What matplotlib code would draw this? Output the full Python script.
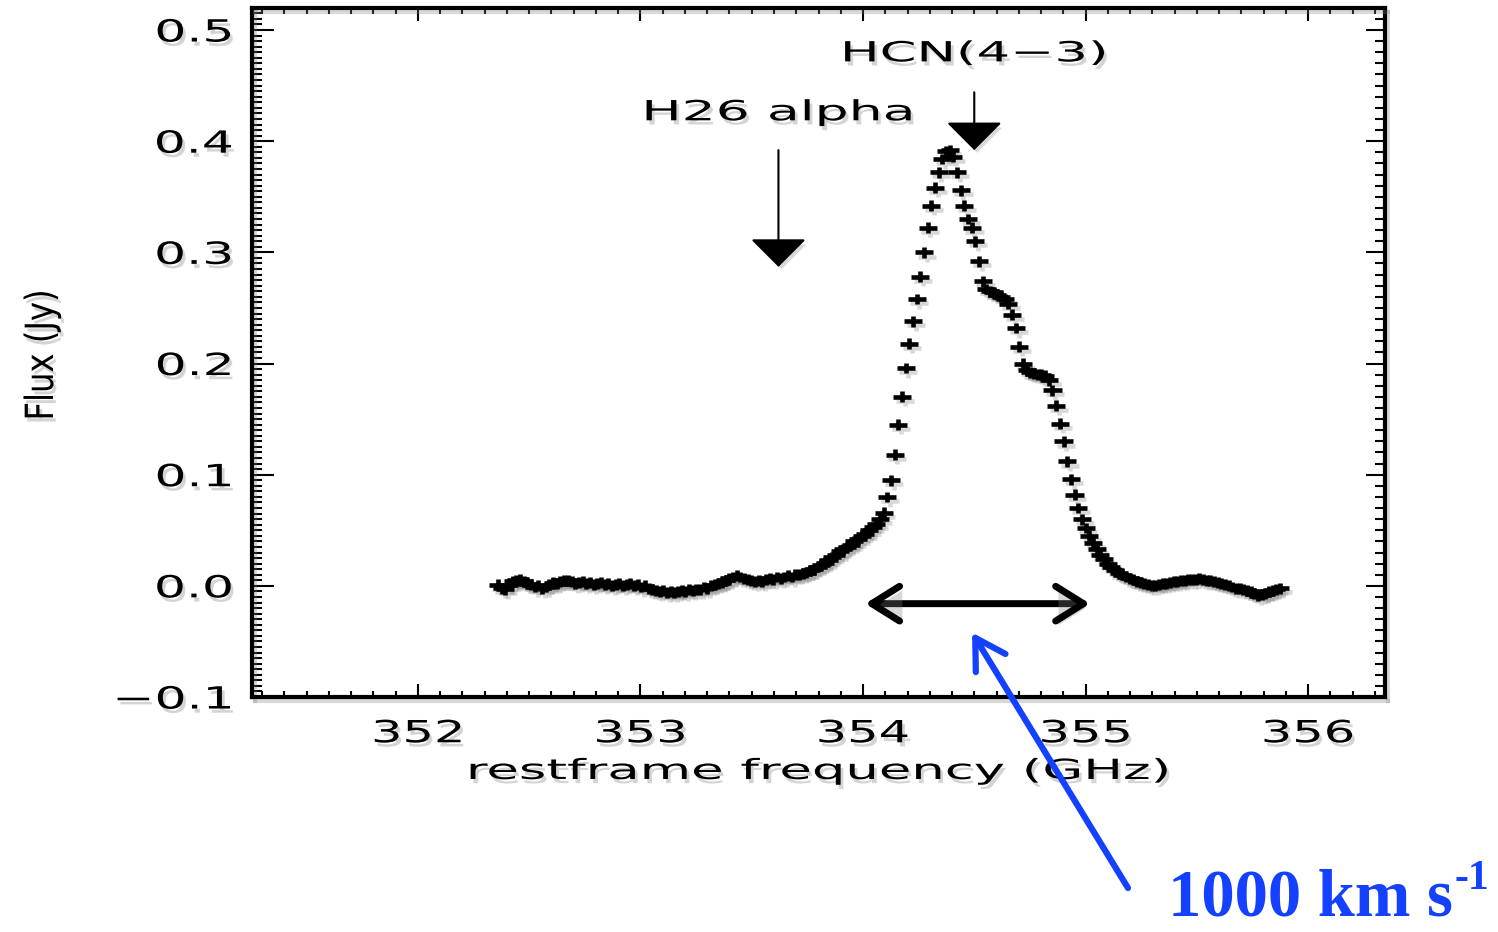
import numpy as np
import matplotlib
matplotlib.use("Agg")
import matplotlib.pyplot as plt
from matplotlib.path import Path
from matplotlib.patches import ArrowStyle
from matplotlib.ticker import MultipleLocator
from matplotlib.transforms import Affine2D
import matplotlib.patheffects as pe

plt.rcParams['font.family'] = ['DejaVu Sans']

# spectrum: channel grid + flux
chan0 = 352.36      # GHz, first channel
dchan = 0.0165      # GHz, channel width
flux = [
    0.001, -0.002, -0.003, 0.001, 0.004, 0.005, 0.006, 0.004, 0.002, 0.001,
    -0.001, 0.000, -0.002, -0.001, 0.001, 0.003, 0.002, 0.004, 0.005, 0.005,
    0.004, 0.002, 0.003, 0.004, 0.002, 0.003, 0.001, 0.002, 0.003, 0.001,
    0.002, 0.000, 0.001, 0.002, 0.000, 0.001, 0.002, 0.000, 0.001, -0.001,
    0.000, -0.002, -0.003, -0.004, -0.005, -0.004, -0.006, -0.005, -0.006, -0.005,
    -0.004, -0.005, -0.003, -0.004, -0.003, -0.003, -0.001, -0.002, 0.000, 0.001,
    0.002, 0.003, 0.005, 0.007, 0.008, 0.009, 0.008, 0.007, 0.006, 0.005,
    0.004, 0.005, 0.004, 0.006, 0.007, 0.006, 0.008, 0.007, 0.008, 0.009,
    0.008, 0.010, 0.010, 0.011, 0.012, 0.014, 0.015, 0.017, 0.019, 0.021,
    0.023, 0.026, 0.028, 0.031, 0.033, 0.035, 0.037, 0.040, 0.042, 0.045,
    0.047, 0.050, 0.053, 0.056, 0.060, 0.066, 0.080, 0.095, 0.118, 0.145,
    0.170, 0.196, 0.218, 0.238, 0.258, 0.278, 0.300, 0.322, 0.342, 0.358,
    0.372, 0.384, 0.391, 0.392, 0.386, 0.372, 0.356, 0.342, 0.330, 0.322,
    0.310, 0.292, 0.274, 0.267, 0.265, 0.264, 0.262, 0.260, 0.258, 0.254,
    0.244, 0.232, 0.215, 0.200, 0.194, 0.192, 0.191, 0.190, 0.190, 0.189,
    0.185, 0.176, 0.162, 0.146, 0.130, 0.112, 0.096, 0.082, 0.070, 0.060,
    0.052, 0.045, 0.039, 0.033, 0.028, 0.024, 0.020, 0.017, 0.014, 0.012,
    0.010, 0.008, 0.007, 0.006, 0.004, 0.003, 0.002, 0.001, 0.000, 0.000,
    0.001, 0.002, 0.002, 0.003, 0.004, 0.004, 0.005, 0.005, 0.006, 0.006,
    0.006, 0.007, 0.006, 0.005, 0.005, 0.004, 0.003, 0.002, 0.001, 0.000,
    -0.001, -0.002, -0.002, -0.003, -0.004, -0.005, -0.007, -0.009, -0.008, -0.007,
    -0.005, -0.004, -0.003, -0.002,
]
freq = chan0 + dchan * np.arange(len(flux))

xticks = [352, 353, 354, 355, 356]
yticks = [-0.1, 0.0, 0.1, 0.2, 0.3, 0.4, 0.5]

# line markers (freq GHz, label y, arrow top, arrow tip)
hcn = (354.50, 0.479, 0.444, 0.392)
h26 = (353.62, 0.426, 0.392, 0.287)
width_arrow = (354.01, 355.02, -0.016)   # 1000 km/s bar
blue = '#1440ff'


class Wide(pe.AbstractPathEffect):
    """stretch text horizontally (IDL look) and put a soft shadow under it"""
    def __init__(self, sx=1.6, anchor=0.5, shadow=True):
        super().__init__()
        self.sx = sx
        self.anchor = anchor
        self.shadow = shadow

    def draw_path(self, renderer, gc, tpath, affine, rgbFace=None):
        ext = tpath.get_extents()
        cx = ext.x0 + self.anchor * ext.width
        st = Affine2D().translate(-cx, 0).scale(self.sx, 1).translate(cx, 0)
        if self.shadow:
            gc0 = renderer.new_gc()
            gc0.copy_properties(gc)
            gc0.set_alpha(0.3)
            off = Affine2D().translate(renderer.points_to_pixels(2.0),
                                       -renderer.points_to_pixels(3.0))
            renderer.draw_path(gc0, tpath, st + affine + off, (0.45, 0.45, 0.45))
            gc0.restore()
        renderer.draw_path(gc, tpath, st + affine, rgbFace)


shadow_line = [pe.SimpleLineShadow(offset=(2, -3), shadow_color='gray', alpha=0.3), pe.Normal()]
shadow_patch = [pe.withSimplePatchShadow(offset=(2, -3), shadow_rgbFace='gray', alpha=0.3)]

fig = plt.figure(figsize=(14.98, 9.32), dpi=100)
ax = fig.add_axes([0.1682, 0.2521, 0.7564, 0.7393])

plus = Path([(-1, 0), (1, 0), (0, -0.6), (0, 0.6)],
            [Path.MOVETO, Path.LINETO, Path.MOVETO, Path.LINETO])
pts, = ax.plot(freq, flux, ls='none', marker=plus, ms=13, mew=3.3,
               mec='black', mfc='none')
pts.set_path_effects(shadow_line)

ax.set_xlim(351.254, 356.346)
ax.set_ylim(-0.1, 0.5198)
ax.set_xticks(xticks)
ax.set_xticklabels([str(v) for v in xticks])
ax.set_yticks(yticks)
ax.set_yticklabels(['−0.1' if v < 0 else f'{v:.1f}' for v in yticks])
ax.xaxis.set_minor_locator(MultipleLocator(0.1))
ax.yaxis.set_minor_locator(MultipleLocator(0.005))
ax.tick_params(axis='x', which='major', direction='in', length=9.5, width=1.5,
               top=True, labelsize=22, pad=16)
ax.tick_params(axis='x', which='minor', direction='in', length=4, width=1.5, top=True)
ax.tick_params(axis='y', which='major', direction='in', length=16, width=1.5,
               right=False, labelsize=22, pad=14)
ax.tick_params(axis='y', which='minor', direction='in', length=7, width=1.5, right=False)
for sp in ax.spines.values():
    sp.set_linewidth(3)
    sp.set_path_effects(shadow_line)

# right axis has its own (coarser) minor ticks
ax2 = ax.twinx()
ax2.set_ylim(ax.get_ylim())
ax2.set_yticks(yticks)
ax2.set_yticklabels([])
ax2.yaxis.set_minor_locator(MultipleLocator(0.01))
ax2.tick_params(axis='y', which='major', direction='in', length=14, width=1.5)
ax2.tick_params(axis='y', which='minor', direction='in', length=7, width=1.5)
for sp in ax2.spines.values():
    sp.set_visible(False)

for t in ax.get_xticklabels():
    t.set_path_effects([Wide(1.62, 0.5)])
for t in ax.get_yticklabels():
    t.set_path_effects([Wide(1.65, 1.0)])

ax.set_xlabel('restframe frequency (GHz)', fontsize=20)
ax.xaxis.set_label_coords(0.5, -0.087)
ax.xaxis.label.set_path_effects([Wide(1.9, 0.5)])

yl = fig.text(42 / 1498, 1 - 355 / 932, 'Flux (Jy)', rotation=90,
              ha='center', va='center', fontsize=28)
yl.set_path_effects([Wide(0.83, 0.5)])

# line identifications
t1 = ax.text(hcn[0], hcn[1], 'HCN(4−3)', ha='center', va='center', fontsize=20)
t1.set_path_effects([Wide(1.9, 0.5)])
t2 = ax.text(h26[0], h26[1], 'H26 alpha', ha='center', va='center', fontsize=20)
t2.set_path_effects([Wide(1.93, 0.5)])

down = ArrowStyle('-|>', head_length=0.5, head_width=0.5)
for xf, _, ytop, ytip in (hcn, h26):
    a = ax.annotate('', xy=(xf, ytip), xytext=(xf, ytop),
                    arrowprops=dict(arrowstyle=down, mutation_scale=36, lw=1.5,
                                    color='black', shrinkA=0, shrinkB=0))
    a.arrow_patch.set_path_effects(shadow_patch)

# velocity width bar
b = ax.annotate('', xy=(width_arrow[1], width_arrow[2]),
                xytext=(width_arrow[0], width_arrow[2]),
                arrowprops=dict(arrowstyle=ArrowStyle('<->', head_length=0.8, head_width=0.5),
                                mutation_scale=25, lw=5, color='black',
                                shrinkA=0, shrinkB=0, capstyle='round', joinstyle='round'))
b.arrow_patch.set_path_effects(shadow_patch)

# blue pointer from the label
ax.annotate('', xy=(354.49, -0.042), xycoords='data',
            xytext=(1128, 932 - 888), textcoords='figure pixels',
            arrowprops=dict(arrowstyle=ArrowStyle('->', head_length=0.85, head_width=0.5),
                            mutation_scale=25, lw=4.5, color=blue,
                            shrinkA=0, shrinkB=0, capstyle='round', joinstyle='round'))

fig.text(1168 / 1498, 1 - 916 / 932, '1000 km s', color=blue, fontsize=48,
         fontweight='bold', family='Liberation Serif', ha='left', va='baseline')
fig.text(1455 / 1498, 1 - 889 / 932, '-1', color=blue, fontsize=30,
         fontweight='bold', family='Liberation Serif', ha='left', va='baseline')

fig.savefig('out.png', dpi=100)
